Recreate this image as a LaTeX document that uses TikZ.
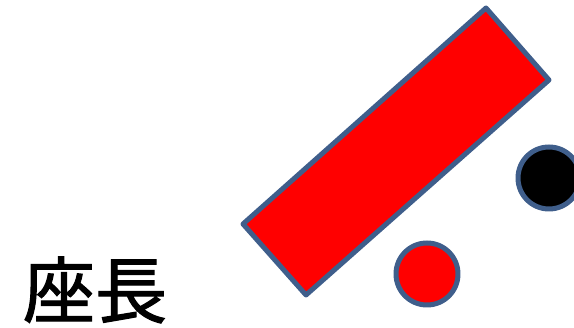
\documentclass[tikz,border=0pt]{standalone}
\usepackage{fontspec}
\newfontfamily\cjk[FakeBold=1.5]{Noto Sans CJK JP}
\usepackage{tikz}
\definecolor{slate}{HTML}{3F5E8B}

\begin{document}
\begin{tikzpicture}[x=1pt, y=-1pt]
            \useasboundingbox (0, 0) rectangle (574, 328);

            \newcommand*{\defcoords}{
                \coordinate (p1) at (243, 224){};
                \coordinate (p2) at (486, 8){};
                \coordinate (p3) at (549, 80){};
                \coordinate (p4) at (306, 295){};
                \coordinate (c1) at (427, 274){};
                \coordinate (c2) at (549, 178){};
            }

            \begin{scope}[
                draw=slate,
                line width=5pt,
                line join=round
            ]
                \defcoords
                \filldraw[fill=red] (p1) -- (p2) -- (p3) -- (p4) -- cycle;
                \filldraw[fill=red] (c1) circle (31);
                \filldraw[fill=black] (c2) circle (31);
            \end{scope}

            \node[font=\cjk\fontsize{72}{72}\selectfont, inner sep=0pt] (chair) at (95, 290) {座長};
        \end{tikzpicture}
\end{document}
